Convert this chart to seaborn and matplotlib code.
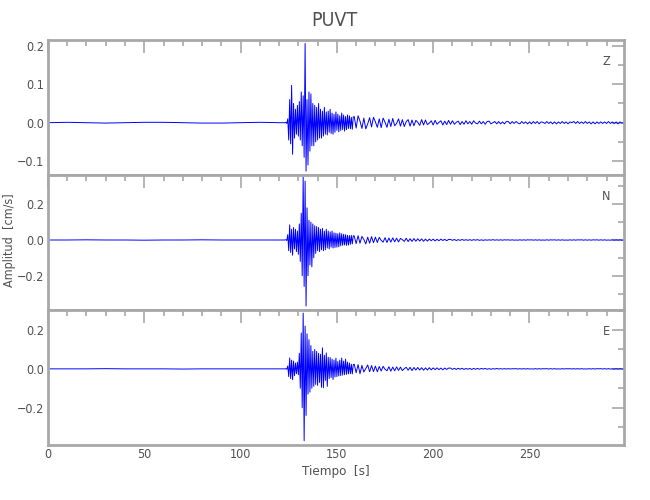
import numpy as np
import pandas as pd
import seaborn as sns
import matplotlib
matplotlib.use('Agg')
import matplotlib.pyplot as plt
from matplotlib import font_manager
from matplotlib.ticker import MultipleLocator, FuncFormatter

# sampling grid of the traces [s]
t_pre = np.arange(0, 121, 10)
t_burst = np.arange(123, 159, 0.5)
t_coda = np.arange(159, 300, 1.0)

# velocities [cm/s]
z_pre = [0.000, 0.001, 0.000, -0.001, 0.000, 0.001, 0.001, 0.000, -0.001, -0.001, 0.000, 0.001, 0.000]
n_pre = [0.000, 0.000, 0.001, 0.000, 0.000, -0.001, 0.000, 0.000, 0.001, 0.000, 0.000, 0.000, 0.000]
e_pre = [0.000, 0.000, 0.000, 0.001, 0.000, 0.000, 0.000, -0.001, 0.000, 0.000, 0.000, 0.000, 0.000]

z_burst = [0.000, 0.001, -0.002, 0.010, -0.045, 0.060, -0.055, 0.097,
           -0.082, 0.050, -0.040, 0.035, -0.030, 0.045, -0.035, 0.055,
           -0.045, 0.080, -0.060, 0.070, -0.090, 0.206, -0.126, 0.060,
           -0.110, 0.080, -0.074, 0.075, -0.060, 0.050, -0.060, 0.045,
           -0.050, 0.040, -0.045, 0.050, -0.040, 0.035, -0.040, 0.030,
           -0.035, 0.040, -0.030, 0.028, -0.032, 0.030, -0.025, 0.035,
           -0.028, 0.025, -0.030, 0.022, -0.025, 0.028, -0.020, 0.022,
           -0.024, 0.018, -0.020, 0.025, -0.018, 0.020, -0.022, 0.016,
           -0.018, 0.020, -0.015, 0.018, -0.016, 0.014, -0.017, 0.015]
n_burst = [0.000, 0.002, -0.003, 0.030, -0.060, 0.085, -0.070, 0.060,
           -0.085, 0.070, -0.050, 0.060, -0.065, 0.050, -0.080, 0.090,
           -0.120, 0.150, -0.200, 0.354, -0.260, 0.330, -0.370, 0.180,
           -0.200, 0.110, -0.140, 0.100, -0.150, 0.090, -0.100, 0.080,
           -0.075, 0.075, -0.060, 0.070, -0.065, 0.060, -0.055, 0.065,
           -0.060, 0.050, -0.055, 0.060, -0.045, 0.050, -0.050, 0.045,
           -0.040, 0.050, -0.045, 0.040, -0.042, 0.038, -0.040, 0.035,
           -0.038, 0.040, -0.032, 0.035, -0.030, 0.032, -0.028, 0.030,
           -0.030, 0.026, -0.028, 0.025, -0.024, 0.026, -0.022, 0.024]
e_burst = [0.000, 0.001, -0.002, 0.015, -0.040, 0.056, -0.050, 0.045,
           -0.056, 0.040, -0.035, 0.030, -0.025, 0.035, -0.030, 0.080,
           -0.100, 0.185, -0.200, 0.287, -0.370, 0.220, -0.240, 0.180,
           -0.130, 0.150, -0.120, 0.120, -0.100, 0.090, -0.090, 0.100,
           -0.080, 0.090, -0.085, 0.080, -0.070, 0.075, -0.095, 0.108,
           -0.097, 0.070, -0.060, 0.082, -0.090, 0.060, -0.050, 0.058,
           -0.045, 0.050, -0.055, 0.045, -0.042, 0.055, -0.040, 0.038,
           -0.036, 0.045, -0.035, 0.056, -0.032, 0.040, -0.030, 0.050,
           -0.028, 0.035, -0.026, 0.030, -0.025, 0.024, -0.026, 0.022]

z_coda = [0.016, -0.014, 0.018, 0.004, -0.015, 0.012, -0.016, -0.003, 0.013, -0.011,
          0.014, 0.002, -0.012, 0.010, -0.013, 0.012, 0.001, -0.012, 0.009, -0.010,
          0.011, -0.008, -0.002, 0.010, -0.009, 0.008, -0.010, 0.003, 0.008, -0.009,
          0.007, -0.008, 0.006, 0.001, -0.007, 0.008, -0.006, 0.007, -0.005, -0.001,
          0.005, -0.006, 0.006, -0.004, 0.001, 0.005, -0.006, 0.004, -0.005, 0.006,
          -0.004, 0.005, -0.004, 0.001, 0.004, -0.005, 0.003, -0.004, 0.005, -0.003,
          0.003, -0.004, 0.005, -0.001, -0.003, 0.004, -0.003, 0.003, -0.004, 0.003,
          0.004, -0.003, 0.000, 0.003, -0.003, 0.003, -0.003, 0.002, -0.003, 0.003,
          0.003, -0.003, 0.003, -0.002, 0.003, -0.001, -0.003, 0.003, -0.002, 0.002,
          -0.003, 0.002, -0.003, 0.003, -0.002, 0.003, -0.003, 0.002, 0.001, -0.002,
          0.003, -0.002, 0.002, -0.003, 0.002, -0.003, 0.002, -0.002, 0.003, -0.002,
          0.002, -0.003, 0.002, 0.000, 0.003, -0.002, 0.003, -0.002, 0.002, -0.002,
          0.003, -0.002, 0.002, -0.003, 0.002, -0.003, 0.002, -0.002, 0.002, -0.002,
          0.002, -0.002, 0.003, -0.002, 0.002, -0.002, 0.002, -0.003, 0.002, -0.001,
          0.001]
n_coda = [0.022, -0.020, 0.024, -0.018, 0.020, 0.003, -0.022, 0.016, -0.018, 0.019,
          -0.015, 0.016, -0.014, 0.015, -0.002, -0.012, 0.013, -0.014, 0.011, -0.012,
          0.012, -0.010, 0.010, -0.011, 0.009, 0.002, -0.008, 0.010, -0.009, 0.007,
          -0.008, 0.008, -0.007, 0.007, -0.006, 0.006, -0.007, 0.005, -0.006, 0.005,
          -0.004, 0.005, -0.005, 0.004, -0.004, 0.005, -0.003, 0.004, -0.004, 0.003,
          0.003, -0.002, 0.003, -0.003, 0.002, -0.002, 0.003, -0.002, 0.002, -0.002,
          0.002, -0.002, 0.002, -0.001, 0.002, -0.002, 0.001, -0.002, 0.001, -0.001,
          0.001, -0.001, 0.002, -0.001, 0.001, -0.001, 0.001, -0.001, 0.001, 0.000,
          0.001, -0.001, 0.001, -0.001, 0.000, -0.001, 0.001, -0.001, 0.001, -0.001,
          0.001, 0.000, 0.001, -0.001, 0.001, -0.001, 0.001, -0.001, 0.000, -0.001,
          0.001, -0.001, 0.001, 0.000, 0.001, -0.001, 0.001, -0.001, 0.001, -0.001,
          0.000, -0.001, 0.001, -0.001, 0.001, -0.001, 0.001, 0.000, 0.001, -0.001,
          0.001, -0.001, 0.001, -0.001, 0.001, 0.000, 0.001, -0.001, 0.001, -0.001,
          0.001, -0.001, 0.000, -0.001, 0.001, -0.001, 0.001, -0.001, 0.001, -0.001,
          0.000]
e_coda = [0.024, -0.020, 0.022, -0.025, 0.018, -0.016, 0.002, 0.020, -0.015, 0.017,
          -0.014, 0.014, -0.015, 0.012, -0.011, 0.013, -0.002, -0.010, 0.011, -0.012,
          0.009, -0.010, 0.010, -0.008, 0.009, -0.009, 0.001, 0.008, -0.007, 0.008,
          -0.009, 0.007, -0.006, 0.007, -0.006, 0.006, -0.007, 0.005, -0.006, 0.006,
          -0.005, 0.005, -0.004, 0.005, -0.004, 0.004, -0.005, 0.004, -0.003, 0.004,
          0.004, -0.003, 0.003, -0.003, 0.003, -0.002, 0.003, -0.003, 0.002, -0.002,
          0.002, -0.003, 0.002, -0.002, 0.002, -0.002, 0.002, -0.001, 0.002, -0.002,
          0.001, -0.002, 0.001, -0.001, 0.002, -0.001, 0.001, -0.001, 0.001, -0.001,
          0.001, -0.001, 0.001, 0.000, 0.001, -0.001, 0.001, -0.001, 0.001, -0.001,
          0.001, -0.001, 0.000, -0.001, 0.001, -0.001, 0.001, -0.001, 0.001, 0.000,
          0.001, -0.001, 0.001, -0.001, 0.001, -0.001, 0.000, -0.001, 0.001, -0.001,
          0.001, 0.000, 0.001, -0.001, 0.001, -0.001, 0.001, -0.001, 0.001, -0.001,
          0.000, -0.001, 0.001, -0.001, 0.001, -0.001, 0.001, 0.000, 0.001, -0.001,
          0.001, -0.001, 0.001, -0.001, 0.000, -0.001, 0.001, -0.001, 0.001, -0.001,
          0.000]

components = ['Z', 'N', 'E']
y_limits = [(-0.136, 0.215), (-0.392, 0.364), (-0.392, 0.303)]
y_major = [0.1, 0.2, 0.2]
y_minor = [0.05, 0.1, 0.1]

tiempo = np.concatenate([t_pre, t_burst, t_coda])
frames = []
for comp, pre, burst, coda in [('Z', z_pre, z_burst, z_coda),
                               ('N', n_pre, n_burst, n_coda),
                               ('E', e_pre, e_burst, e_coda)]:
    frames.append(pd.DataFrame({'tiempo': tiempo,
                                'amp': np.concatenate([pre, burst, coda]),
                                'comp': comp}))
df = pd.concat(frames, ignore_index=True)

sns.set_theme(style='white')
names = {f.name for f in font_manager.fontManager.ttflist}
if 'Liberation Sans Narrow' in names:
    plt.rcParams['font.family'] = ['Liberation Sans Narrow', 'DejaVu Sans']
else:
    plt.rcParams['font.family'] = ['DejaVu Sans']
    plt.rcParams['font.stretch'] = 'condensed'

grey = '#a8a8a8'
txt = '#505050'
fig = plt.figure(figsize=(6.5, 5), dpi=100)
bottoms = [0.65, 0.38, 0.11]

minus = FuncFormatter(lambda v, p: f'{v:.1f}'.replace('-', '\u2212'))

for i, comp in enumerate(components):
    ax = fig.add_axes([0.0738, bottoms[i], 0.886, 0.27])
    sns.lineplot(data=df[df.comp == comp], x='tiempo', y='amp', ax=ax,
                 color='blue', lw=0.7, estimator=None, sort=False)
    ax.set_xlim(0, 299)
    ax.set_ylim(*y_limits[i])
    ax.xaxis.set_major_locator(MultipleLocator(50))
    ax.xaxis.set_minor_locator(MultipleLocator(10))
    ax.yaxis.set_major_locator(MultipleLocator(y_major[i]))
    ax.yaxis.set_minor_locator(MultipleLocator(y_minor[i]))
    ax.yaxis.set_major_formatter(minus)
    ax.tick_params(which='both', direction='in', top=True, right=True,
                   color=grey, labelcolor=txt, labelsize=9, pad=2.5)
    ax.tick_params(which='major', length=9, width=1.2)
    ax.tick_params(which='minor', length=4.5, width=1.2)
    for s in ax.spines.values():
        s.set_color(grey)
        s.set_linewidth(2)
    ax.set_xlabel('')
    ax.set_ylabel('')
    if i < 2:
        ax.tick_params(labelbottom=False)
    ax.text(0.969, 0.84, comp, transform=ax.transAxes, ha='center',
            va='center', fontsize=9, color=txt)

fig.text(0.515, 0.96, 'PUVT', ha='center', va='center', fontsize=14, color=txt)
fig.text(0.014, 0.52, 'Amplitud  [cm/s]', rotation=90, ha='center',
         va='center', fontsize=9, color=txt)
fig.text(0.516, 0.058, 'Tiempo  [s]', ha='center', va='center',
         fontsize=9.5, color=txt)

fig.savefig('out.png', dpi=100)
